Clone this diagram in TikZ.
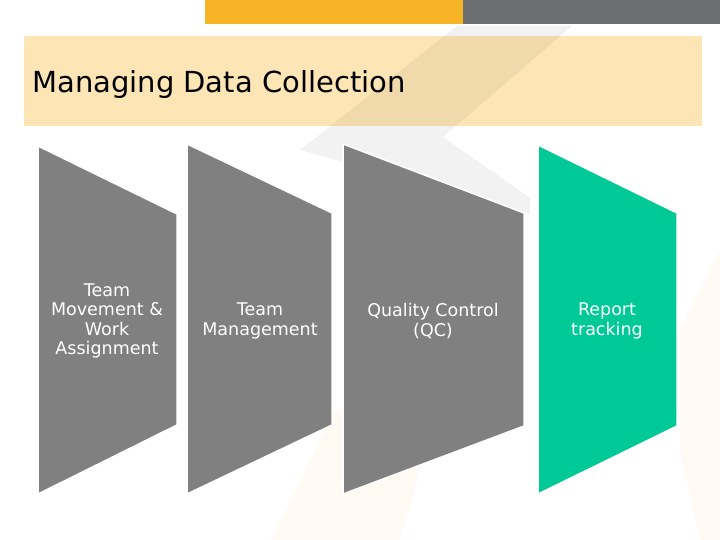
\documentclass[tikz,border=0pt]{standalone}
\usepackage{fontspec}
\setmainfont{DejaVu Sans}
\usepackage{xcolor}
\definecolor{stepgray}{RGB}{128,128,128}
\definecolor{stepgreen}{RGB}{0,201,152}
\definecolor{barorange}{RGB}{245,179,37}
\definecolor{bargray}{RGB}{109,110,113}
\definecolor{bandcream}{RGB}{253,229,181}
\definecolor{markcream}{RGB}{250,200,120}

\begin{document}
\begin{tikzpicture}[
    x=1pt, y=-1pt,
    panel/.style={fill=stepgray, draw=white, line width=1.5pt},
    steptext/.style={text=white, align=center,
        font=\fontsize{17.5}{19.5}\selectfont},
    graymark/.style={fill=black, fill opacity=0.05},
    creammark/.style={fill=markcream, fill opacity=0.09}
]
    \useasboundingbox (0,0) rectangle (720,540);

    % top bar and title band
    \fill[barorange] (205,0) rectangle (463,24);
    \fill[bargray] (463,0) rectangle (720,24);
    \fill[bandcream] (24,36) rectangle (702,126);

    % faint watermark
    \fill[graymark] (457,26) -- (572,26) -- (443,137) -- (530,198)
        -- (530,214) -- (300,150) -- cycle;
    \fill[creammark] (271,540) -- (335,410) -- (420,470) -- (400,540) -- cycle;
    \fill[creammark] (680,330) -- (720,250) -- (720,540) -- (700,540)
        -- (680,450) -- cycle;

    \node[anchor=base west, inner sep=0pt,
        font=\fontsize{29}{34}\selectfont] (title) at (32,93)
        {Managing Data Collection};

    % process panels
    \draw[panel] (38,146) -- (177,214) -- (177,425) -- (38,494) -- cycle;
    \draw[panel] (187,144) -- (332,213) -- (332,425) -- (187,494) -- cycle;
    \draw[panel] (343,144) -- (524,213) -- (524,426) -- (343,494) -- cycle;
    \draw[panel, fill=stepgreen] (538,145) -- (677,213) -- (677,426)
        -- (538,494) -- cycle;

    \node[steptext] (move) at (107,321) {Team\\Movement \&\\Work\\Assignment};
    \node[steptext] (manage) at (260,321) {Team\\Management};
    \node[steptext] (qc) at (433,321) {Quality Control\\(QC)};
    \node[steptext] (report) at (607,321) {Report\\tracking};
\end{tikzpicture}
\end{document}
